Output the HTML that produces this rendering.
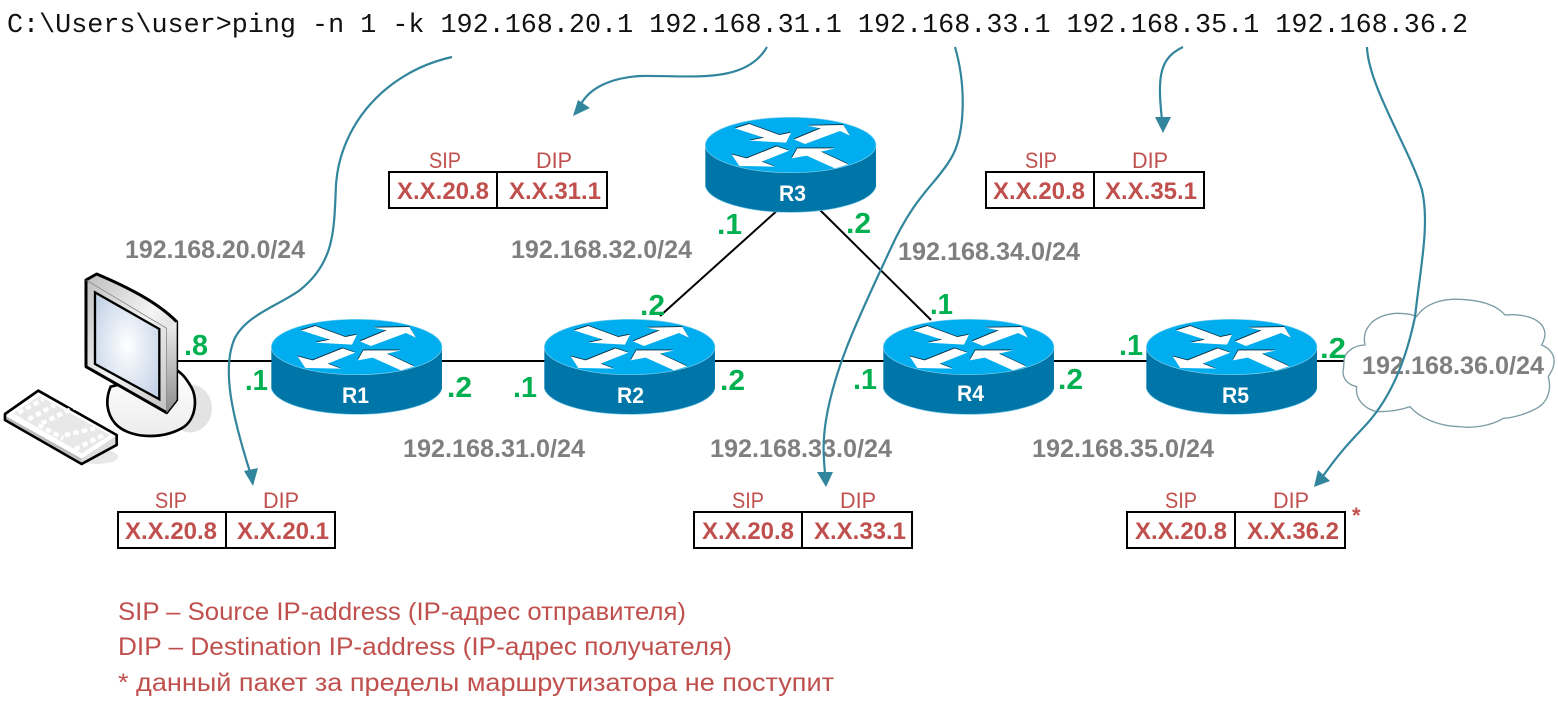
<!DOCTYPE html>
<html><head><meta charset="utf-8"><style>
html,body{margin:0;padding:0;background:#fff;width:1558px;height:703px;overflow:hidden}
svg{display:block}
text{font-family:"Liberation Sans",sans-serif}
.g{font-weight:bold;font-size:25px;fill:#7f7f7f}
.n{font-weight:bold;font-size:29px;fill:#00b050}
.r{font-weight:bold;font-size:22px;fill:#fff}
.s{font-size:22px;fill:#c0504d}
.v{font-weight:bold;font-size:24px;fill:#c0504d}
.l{font-size:25px;fill:#c0504d}
.c{fill:none;stroke:#31859c;stroke-width:2.2}
.k{stroke:#000;stroke-width:2}
.t{fill:#fff;stroke:#000;stroke-width:2}
</style></head><body>
<svg width="1558" height="703" viewBox="0 0 1558 703" xmlns="http://www.w3.org/2000/svg">
<defs>
<g id="rt" transform="scale(.3333)">
  <path d="M46 120 V245 C60 290 170 322 302 322 C434 322 545 290 558 245 V120 Z" fill="#0076a8"/>
  <path d="M46 245 C60 290 170 322 302 322 C434 322 545 290 558 245" fill="none" stroke="#6cc4e6" stroke-width="2"/>
  <ellipse cx="302" cy="120" rx="256" ry="83" fill="#00aeef" stroke="#7fd0ee" stroke-width="2"/>
  <g fill="#0b2a3a" transform="translate(-1,-2.5)">
    <polygon points="135,70 178,57 268,90 303,83 288,113 178,107 222,98"/>
    <polygon points="312,103 392,70 352,62 460,60 480,92 450,78 345,117"/>
    <polygon points="125,148 170,160 260,124 298,137 215,170 255,185 148,183"/>
    <polygon points="305,160 322,130 435,130 393,140 475,178 435,190 350,152"/>
  </g>
  <g fill="#fff">
    <polygon points="135,70 178,57 268,90 303,83 288,113 178,107 222,98"/>
    <polygon points="312,103 392,70 352,62 460,60 480,92 450,78 345,117"/>
    <polygon points="125,148 170,160 260,124 298,137 215,170 255,185 148,183"/>
    <polygon points="305,160 322,130 435,130 393,140 475,178 435,190 350,152"/>
  </g>
</g>
<radialGradient id="scr" cx=".5" cy=".5" r=".6"><stop offset="0" stop-color="#fff"/><stop offset="1" stop-color="#c6d4e8"/></radialGradient>
<linearGradient id="fr" x1="0" y1="0" x2="1" y2="1"><stop offset="0" stop-color="#bdbdbd"/><stop offset=".5" stop-color="#f4f4f4"/><stop offset="1" stop-color="#bbb"/></linearGradient>
<linearGradient id="sd" x1="0" y1="0" x2="0" y2="1"><stop offset="0" stop-color="#eee"/><stop offset="1" stop-color="#8c8c8c"/></linearGradient>
<linearGradient id="bs" x1="0" y1="0" x2="0" y2="1"><stop offset="0" stop-color="#fff"/><stop offset="1" stop-color="#ececec"/></linearGradient>
</defs>

<text x="7" y="32" font-size="26.5" textLength="1461" lengthAdjust="spacingAndGlyphs" style="font-family:'Liberation Mono',monospace" fill="#111">C:\Users\user&gt;ping -n 1 -k 192.168.20.1 192.168.31.1 192.168.33.1 192.168.35.1 192.168.36.2</text>

<!-- links -->
<line class="k" x1="178" y1="361" x2="272" y2="361"/>
<line class="k" x1="442" y1="361" x2="545" y2="361"/>
<line class="k" x1="714" y1="361" x2="885" y2="361"/>
<line class="k" x1="1054" y1="361" x2="1147" y2="361"/>
<line class="k" x1="1316" y1="361" x2="1344" y2="361"/>
<line class="k" x1="660" y1="316" x2="780" y2="208"/>
<line class="k" x1="820" y1="210" x2="931" y2="320"/>

<!-- PC -->
<g transform="translate(0,260) scale(.3333)">
  <ellipse cx="570" cy="445" rx="66" ry="72" fill="#e3e3e3"/>
  <ellipse cx="290" cy="590" rx="65" ry="22" fill="#e8e8e8"/>
  <path d="M332 380 C315 420 320 460 345 490 C385 535 480 540 545 505 C590 480 595 410 570 375 C555 350 545 340 530 330 Z" fill="url(#bs)" stroke="#000" stroke-width="8"/>
  <path d="M258 60 L290 42 C380 80 470 125 530 185 L530 420 L500 458 L258 320 Z" fill="url(#fr)" stroke="#000" stroke-width="9" stroke-linejoin="round"/>
  <path d="M500 205 L530 185 L530 420 L500 458 Z" fill="url(#sd)"/>
  <path d="M258 60 L500 205 L500 458" fill="none" stroke="#777" stroke-width="2"/>
  <path d="M285 97 L478 207 L478 418 L285 312 Z" fill="url(#scr)" stroke="#000" stroke-width="7"/>
  <path d="M15 462 L115 392 L350 525 L350 555 L245 612 L15 480 Z" fill="#fff" stroke="#000" stroke-width="8" stroke-linejoin="round"/>
  <path d="M20 470 L245 596 L245 606 L20 478 Z" fill="#bbb"/>
  <path d="M245 596 L345 530 L345 552 L245 606 Z" fill="#ddd"/>
  <path d="M40 460 L118 408 L330 525 L245 580 Z" fill="#e8e8e8"/>
  <g stroke="#fff" stroke-width="13" stroke-dasharray="16 10" fill="none">
    <path d="M55 458 L130 418"/><path d="M85 478 L165 435"/><path d="M125 490 L225 442"/>
    <path d="M195 525 L285 505"/><path d="M225 568 L310 525"/><path d="M115 495 L190 535"/>
  </g>
</g>

<!-- cloud -->
<path transform="translate(1300,290) scale(.3333)" d="M132 215 C130 190 160 165 195 165 C185 120 215 75 290 70 C315 70 335 72 350 80 C375 40 430 25 480 28 C540 30 590 45 615 75 C670 70 730 85 735 130 C735 145 730 155 725 165 C750 175 765 195 762 220 C760 240 750 250 745 260 C755 300 745 340 700 360 C670 375 630 385 610 385 C570 410 510 415 480 410 C420 410 360 385 330 350 C290 365 250 365 230 365 C190 355 165 325 170 290 C145 285 125 265 130 240 Z" fill="#fff" stroke="#7d9ba5" stroke-width="4"/>

<!-- routers -->
<use href="#rt" transform="translate(256,307)"/>
<use href="#rt" transform="translate(529,307)"/>
<use href="#rt" transform="translate(690,105)"/>
<use href="#rt" transform="translate(868,307)"/>
<use href="#rt" transform="translate(1131,307)"/>
<text class="r" x="342" y="403" textLength="27" lengthAdjust="spacingAndGlyphs">R1</text>
<text class="r" x="617" y="403" textLength="27" lengthAdjust="spacingAndGlyphs">R2</text>
<text class="r" x="779" y="201" textLength="27" lengthAdjust="spacingAndGlyphs">R3</text>
<text class="r" x="957" y="401" textLength="27" lengthAdjust="spacingAndGlyphs">R4</text>
<text class="r" x="1222" y="403" textLength="27" lengthAdjust="spacingAndGlyphs">R5</text>

<!-- network labels -->
<text class="g" x="125" y="258" textLength="180" lengthAdjust="spacingAndGlyphs">192.168.20.0/24</text>
<text class="g" x="511" y="258" textLength="181" lengthAdjust="spacingAndGlyphs">192.168.32.0/24</text>
<text class="g" x="898" y="260" textLength="182" lengthAdjust="spacingAndGlyphs">192.168.34.0/24</text>
<text class="g" x="403" y="457" textLength="182" lengthAdjust="spacingAndGlyphs">192.168.31.0/24</text>
<text class="g" x="710" y="457" textLength="182" lengthAdjust="spacingAndGlyphs">192.168.33.0/24</text>
<text class="g" x="1032" y="457" textLength="182" lengthAdjust="spacingAndGlyphs">192.168.35.0/24</text>
<text class="g" x="1362" y="374" textLength="182" lengthAdjust="spacingAndGlyphs">192.168.36.0/24</text>

<!-- interface labels -->
<text class="n" x="184" y="355" textLength="24" lengthAdjust="spacingAndGlyphs">.8</text>
<text class="n" x="245" y="390" textLength="23" lengthAdjust="spacingAndGlyphs">.1</text>
<text class="n" x="447" y="397" textLength="25" lengthAdjust="spacingAndGlyphs">.2</text>
<text class="n" x="513" y="397" textLength="24" lengthAdjust="spacingAndGlyphs">.1</text>
<text class="n" x="640" y="315" textLength="25" lengthAdjust="spacingAndGlyphs">.2</text>
<text class="n" x="720" y="390" textLength="25" lengthAdjust="spacingAndGlyphs">.2</text>
<text class="n" x="717" y="234" textLength="25" lengthAdjust="spacingAndGlyphs">.1</text>
<text class="n" x="846" y="233" textLength="25" lengthAdjust="spacingAndGlyphs">.2</text>
<text class="n" x="853" y="389" textLength="24" lengthAdjust="spacingAndGlyphs">.1</text>
<text class="n" x="930" y="314" textLength="23" lengthAdjust="spacingAndGlyphs">.1</text>
<text class="n" x="1058" y="389" textLength="25" lengthAdjust="spacingAndGlyphs">.2</text>
<text class="n" x="1119" y="355" textLength="24" lengthAdjust="spacingAndGlyphs">.1</text>
<text class="n" x="1320" y="358" textLength="26" lengthAdjust="spacingAndGlyphs">.2</text>

<!-- tables -->
<g transform="translate(118,512)">
  <rect class="t" x="0" y="0" width="217" height="36"/><line class="k" x1="108" y1="0" x2="108" y2="36"/>
  <text class="s" x="37" y="-4" textLength="32" lengthAdjust="spacingAndGlyphs">SIP</text><text class="s" x="145" y="-4" textLength="36" lengthAdjust="spacingAndGlyphs">DIP</text>
  <text class="v" x="7" y="27" textLength="92" lengthAdjust="spacingAndGlyphs">X.X.20.8</text><text class="v" x="119" y="27" textLength="92" lengthAdjust="spacingAndGlyphs">X.X.20.1</text>
</g>
<g transform="translate(389,172)">
  <rect class="t" x="0" y="0" width="218" height="36"/><line class="k" x1="108" y1="0" x2="108" y2="36"/>
  <text class="s" x="40" y="-4" textLength="32" lengthAdjust="spacingAndGlyphs">SIP</text><text class="s" x="147" y="-4" textLength="36" lengthAdjust="spacingAndGlyphs">DIP</text>
  <text class="v" x="8" y="27" textLength="92" lengthAdjust="spacingAndGlyphs">X.X.20.8</text><text class="v" x="120" y="27" textLength="92" lengthAdjust="spacingAndGlyphs">X.X.31.1</text>
</g>
<g transform="translate(986,172)">
  <rect class="t" x="0" y="0" width="218" height="36"/><line class="k" x1="108" y1="0" x2="108" y2="36"/>
  <text class="s" x="39" y="-4" textLength="32" lengthAdjust="spacingAndGlyphs">SIP</text><text class="s" x="146" y="-4" textLength="36" lengthAdjust="spacingAndGlyphs">DIP</text>
  <text class="v" x="7" y="27" textLength="92" lengthAdjust="spacingAndGlyphs">X.X.20.8</text><text class="v" x="119" y="27" textLength="92" lengthAdjust="spacingAndGlyphs">X.X.35.1</text>
</g>
<g transform="translate(694,512)">
  <rect class="t" x="0" y="0" width="218" height="36"/><line class="k" x1="108" y1="0" x2="108" y2="36"/>
  <text class="s" x="38" y="-4" textLength="32" lengthAdjust="spacingAndGlyphs">SIP</text><text class="s" x="146" y="-4" textLength="36" lengthAdjust="spacingAndGlyphs">DIP</text>
  <text class="v" x="8" y="27" textLength="92" lengthAdjust="spacingAndGlyphs">X.X.20.8</text><text class="v" x="120" y="27" textLength="92" lengthAdjust="spacingAndGlyphs">X.X.33.1</text>
</g>
<g transform="translate(1127,512)">
  <rect class="t" x="0" y="0" width="218" height="36"/><line class="k" x1="108" y1="0" x2="108" y2="36"/>
  <text class="s" x="38" y="-4" textLength="32" lengthAdjust="spacingAndGlyphs">SIP</text><text class="s" x="146" y="-4" textLength="36" lengthAdjust="spacingAndGlyphs">DIP</text>
  <text class="v" x="8" y="27" textLength="92" lengthAdjust="spacingAndGlyphs">X.X.20.8</text><text class="v" x="120" y="27" textLength="92" lengthAdjust="spacingAndGlyphs">X.X.36.2</text>
</g>
<text class="s" x="1352" y="523" font-weight="bold">*</text>

<!-- curves -->
<g class="c">
  <path d="M452 57 C385 72 340 125 336 185 C334 230 335 262 300 290 C280 305 245 315 234 340 C222 370 232 415 250 472"/>
  <path d="M767 47 C745 85 690 75 640 76 C610 78 590 88 581 104"/>
  <path d="M955 47 C966 85 966 135 950 160 C935 185 915 195 890 250 C860 315 835 365 826 420 C822 445 824 460 825 474"/>
  <path d="M1183 47 C1160 58 1157 75 1162 120"/>
  <path d="M1367 47 C1368 85 1410 150 1422 190 C1430 225 1420 270 1415 317 C1408 350 1395 395 1363 428 C1350 442 1340 452 1323 476"/>
</g>
<g fill="#31859c">
  <polygon points="253,486 244,471 258,468"/>
  <polygon points="573,116 578,100 590,108"/>
  <polygon points="826,487 817,472 833,472"/>
  <polygon points="1163,133 1155,117 1171,117"/>
  <polygon points="1314,487 1318,470 1330,481"/>
</g>

<!-- legend -->
<text class="l" x="118" y="620" textLength="568" lengthAdjust="spacingAndGlyphs">SIP – Source IP-address (IP-адрес отправителя)</text>
<text class="l" x="118" y="655" textLength="614" lengthAdjust="spacingAndGlyphs">DIP – Destination IP-address (IP-адрес получателя)</text>
<text class="l" x="118" y="691" textLength="716" lengthAdjust="spacingAndGlyphs">* данный пакет за пределы маршрутизатора не поступит</text>
</svg>
</body></html>
